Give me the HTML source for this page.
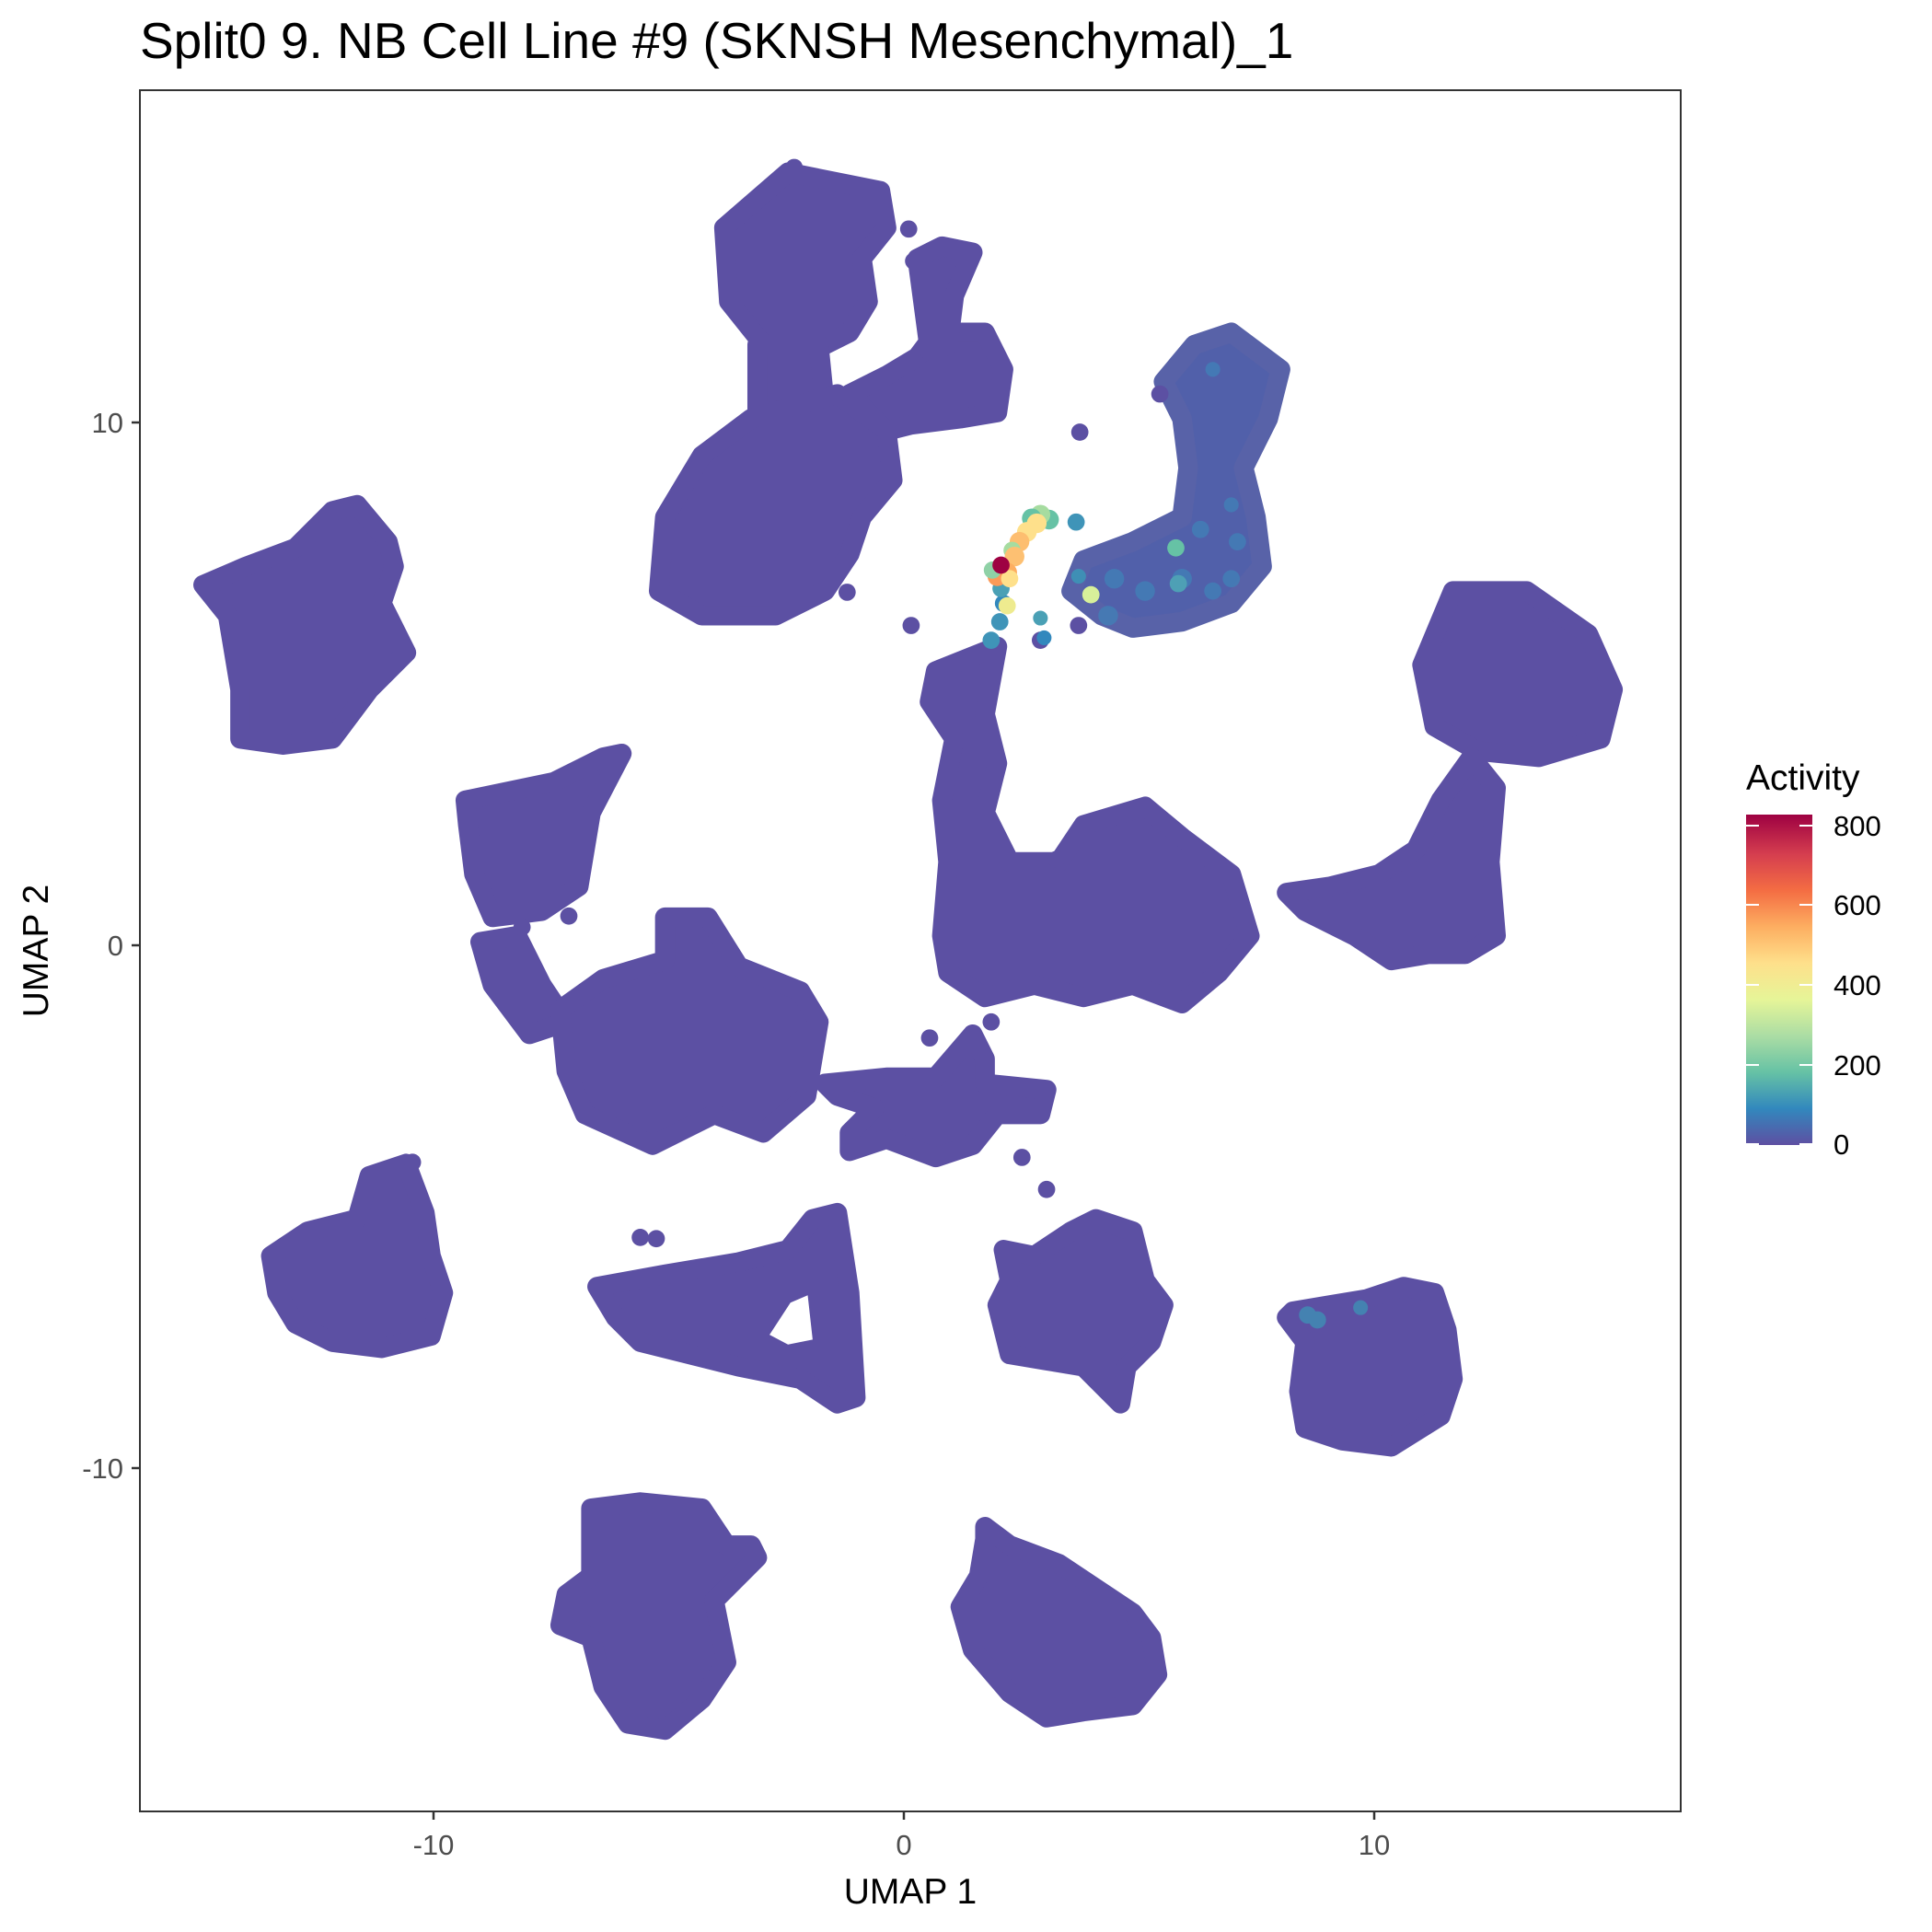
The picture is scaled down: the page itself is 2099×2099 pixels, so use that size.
<!DOCTYPE html>
<html><head><meta charset="utf-8"><style>
html,body{margin:0;padding:0;background:#fff}
svg{display:block}
text{font-family:"Liberation Sans",sans-serif}
</style></head><body>
<svg width="2099" height="2099" viewBox="0 0 2099 2099" xmlns="http://www.w3.org/2000/svg">
<defs>
<linearGradient id="sp" x1="0" y1="1" x2="0" y2="0">
<stop offset="0" stop-color="#5e4fa2"/>
<stop offset="0.11" stop-color="#3288bd"/>
<stop offset="0.22" stop-color="#66c2a5"/>
<stop offset="0.33" stop-color="#abdda4"/>
<stop offset="0.44" stop-color="#e6f598"/>
<stop offset="0.55" stop-color="#fee08b"/>
<stop offset="0.66" stop-color="#fdae61"/>
<stop offset="0.77" stop-color="#f46d43"/>
<stop offset="0.88" stop-color="#d53e4f"/>
<stop offset="1" stop-color="#9e0142"/>
</linearGradient>
</defs>
<rect width="2099" height="2099" fill="#fff"/>
<text x="152" y="63" font-size="55" fill="#000">Split0 9. NB Cell Line #9 (SKNSH Mesenchymal)_1</text>

<g transform="scale(1.3377)" fill="#5c50a3" stroke="#5c50a3" stroke-width="16" stroke-linejoin="round">
<polygon points="588,185 640,140 715,155 720,185 700,210 705,245 690,270 660,285 620,280 592,245"/>
<polygon points="615,280 665,280 670,330 615,335"/>
<polygon points="540,420 570,370 610,340 680,320 720,350 725,390 700,420 690,450 670,480 630,500 570,500 535,480"/>
<polygon points="690,320 720,305 745,290 760,270 800,270 815,300 810,335 780,340 740,345 720,350"/>
<polygon points="745,210 765,200 790,205 775,240 770,280 755,285"/>
<polygon fill="#5160aa" stroke="#5862a8" points="945,310 970,280 1000,270 1040,300 1030,340 1010,380 1020,420 1025,460 1000,490 960,505 920,510 895,500 870,480 880,455 920,440 960,420 965,380 960,340"/>
<polygon points="760,545 810,525 800,580 810,620 800,660 820,700 860,700 880,670 930,655 960,680 1000,710 1015,760 990,790 960,815 920,800 880,810 840,800 800,810 770,790 765,760 770,700 765,650 775,600 755,570"/>
<polygon points="1155,540 1180,480 1240,480 1290,515 1310,560 1300,600 1250,615 1200,610 1165,590"/>
<polygon points="1195,615 1215,640 1210,700 1215,760 1190,775 1160,775 1130,780 1100,760 1060,740 1045,725 1080,720 1120,710 1150,690 1170,650"/>
<polygon points="165,475 200,460 240,445 270,415 290,410 315,440 320,460 310,490 330,530 300,560 270,600 230,605 195,600 195,560 185,500"/>
<polygon points="378,650 450,635 490,615 505,612 480,660 470,720 440,740 400,745 385,710 380,670"/>
<polygon points="390,765 420,760 440,800 460,830 430,840 400,800"/>
<polygon points="455,820 490,795 540,780 540,745 575,745 600,785 650,805 665,830 655,890 620,920 580,905 530,930 475,905 460,870"/>
<polygon points="670,880 720,875 760,875 790,840 800,860 800,880 850,885 845,905 810,905 790,930 760,940 720,925 690,935 690,920 710,900 680,890"/>
<polygon points="220,1020 250,1000 290,990 300,955 330,945 345,985 350,1020 360,1050 350,1085 310,1095 270,1090 240,1075 225,1050"/>
<polygon points="485,1045 540,1035 600,1025 640,1015 660,990 680,985 690,1050 695,1135 680,1140 650,1120 600,1110 560,1100 520,1090 500,1070"/>
<polygon fill="#fff" stroke="none" points="642,1058 656,1052 660,1088 640,1092 625,1084"/>
<polygon points="815,1015 840,1020 870,1000 890,990 920,1000 930,1040 945,1060 935,1090 915,1110 910,1140 880,1110 850,1105 820,1100 810,1060 820,1040"/>
<polygon points="1050,1065 1080,1060 1110,1055 1140,1045 1165,1050 1175,1080 1180,1120 1170,1150 1130,1175 1090,1170 1060,1160 1055,1130 1060,1090 1045,1070"/>
<polygon points="480,1225 520,1220 570,1225 590,1255 610,1255 615,1265 580,1300 590,1350 570,1380 540,1405 510,1400 490,1370 480,1330 455,1320 460,1295 480,1280"/>
<polygon points="800,1240 820,1255 860,1270 890,1290 920,1310 935,1330 940,1360 920,1385 880,1390 850,1395 820,1375 790,1340 780,1305 795,1280 800,1250"/>
</g>

<g transform="scale(1.3377)" stroke="none">
<g fill="#5c50a3">
<circle cx="877" cy="351" r="7"/><circle cx="738" cy="186" r="7"/><circle cx="742" cy="212" r="7"/>
<circle cx="645" cy="136" r="7"/><circle cx="740" cy="508" r="7"/><circle cx="845" cy="520" r="7"/>
<circle cx="876" cy="508" r="7"/><circle cx="830" cy="940" r="7"/><circle cx="850" cy="966" r="7"/>
<circle cx="520" cy="1005" r="7"/><circle cx="533" cy="1006" r="7"/><circle cx="335" cy="944" r="7"/>
<circle cx="688" cy="481" r="7"/><circle cx="462" cy="744" r="7"/><circle cx="424" cy="753" r="7"/>
<circle cx="911" cy="1137" r="7"/><circle cx="805" cy="830" r="7"/><circle cx="755" cy="843" r="7"/>
<circle cx="858" cy="698" r="7"/><circle cx="1183" cy="666" r="7"/><circle cx="942" cy="320" r="7"/>
</g>
<g fill="#3f84b9" opacity="0.7">
<circle cx="900" cy="500" r="8"/><circle cx="930" cy="480" r="8"/><circle cx="960" cy="470" r="8"/>
<circle cx="985" cy="480" r="7"/><circle cx="1000" cy="470" r="7"/><circle cx="975" cy="430" r="7"/>
<circle cx="1005" cy="440" r="7"/><circle cx="985" cy="300" r="6"/><circle cx="1000" cy="410" r="6"/>
<circle cx="905" cy="470" r="8"/>
</g>
<circle cx="955" cy="445" r="7" fill="#66c2a5"/>
<circle cx="957" cy="474" r="7" fill="#4ea0b5"/>
<g fill="#3f8fb5" opacity="0.8">
<circle cx="1062" cy="1068" r="7"/><circle cx="1070" cy="1072" r="7"/><circle cx="1105" cy="1062" r="6"/>
</g>
<g>
<circle cx="805" cy="520" r="7" fill="#3f94b8"/><circle cx="812" cy="505" r="7" fill="#3f94b8"/>
<circle cx="815" cy="490" r="7" fill="#3288bd"/><circle cx="813" cy="478" r="7" fill="#4aa0b5"/>
<circle cx="818" cy="492" r="7" fill="#eeeb8f"/>
<circle cx="845" cy="502" r="6" fill="#4aa0b5"/><circle cx="848" cy="518" r="6" fill="#3288bd"/>
<circle cx="886" cy="483" r="7" fill="#d7f09a"/><circle cx="876" cy="468" r="6" fill="#3f8fb5"/>
<circle cx="874" cy="424" r="7" fill="#3f94b8"/>
<circle cx="852" cy="422" r="8" fill="#66c2a5"/><circle cx="845" cy="418" r="8" fill="#a6dca0"/>
<circle cx="838" cy="421" r="8" fill="#66c2a5"/><circle cx="842" cy="425" r="8" fill="#fee08b"/>
<circle cx="834" cy="432" r="8" fill="#fee08b"/><circle cx="828" cy="440" r="8" fill="#fdbe70"/>
<circle cx="822" cy="447" r="7" fill="#a6dca0"/><circle cx="824" cy="452" r="8" fill="#fdc072"/>
<circle cx="818" cy="465" r="8" fill="#fdae61"/><circle cx="810" cy="468" r="8" fill="#fb9a58"/>
<circle cx="806" cy="463" r="7" fill="#8fd1a6"/><circle cx="820" cy="470" r="7" fill="#fee08b"/>
<circle cx="813" cy="459" r="7" fill="#9e0142"/>
</g>
</g>

<rect x="152" y="98" width="1674" height="1870" fill="none" stroke="#333" stroke-width="2"/>
<g stroke="#333" stroke-width="2.5">
<line x1="471" y1="1968" x2="471" y2="1977"/><line x1="982" y1="1968" x2="982" y2="1977"/><line x1="1493" y1="1968" x2="1493" y2="1977"/>
<line x1="143" y1="459" x2="152" y2="459"/><line x1="143" y1="1027" x2="152" y2="1027"/><line x1="143" y1="1595" x2="152" y2="1595"/>
</g>
<g font-size="31" fill="#4d4d4d">
<text x="471" y="2015" text-anchor="middle">-10</text>
<text x="982" y="2015" text-anchor="middle">0</text>
<text x="1493" y="2015" text-anchor="middle">10</text>
<text x="134" y="470" text-anchor="end">10</text>
<text x="134" y="1038" text-anchor="end">0</text>
<text x="134" y="1606" text-anchor="end">-10</text>
</g>
<text x="989" y="2068" font-size="39" text-anchor="middle" fill="#000">UMAP 1</text>
<text transform="translate(52,1033) rotate(-90)" font-size="39" text-anchor="middle" fill="#000">UMAP 2</text>

<text x="1897" y="858" font-size="39" fill="#000">Activity</text>
<rect x="1897" y="885" width="72" height="359" fill="url(#sp)"/>
<g stroke="#fff" stroke-width="2">
<line x1="1897" y1="897" x2="1911" y2="897"/><line x1="1955" y1="897" x2="1969" y2="897"/>
<line x1="1897" y1="983" x2="1911" y2="983"/><line x1="1955" y1="983" x2="1969" y2="983"/>
<line x1="1897" y1="1070" x2="1911" y2="1070"/><line x1="1955" y1="1070" x2="1969" y2="1070"/>
<line x1="1897" y1="1157" x2="1911" y2="1157"/><line x1="1955" y1="1157" x2="1969" y2="1157"/>
<line x1="1897" y1="1243" x2="1911" y2="1243"/><line x1="1955" y1="1243" x2="1969" y2="1243"/>
</g>
<g font-size="31" fill="#000">
<text x="1992" y="908">800</text>
<text x="1992" y="994">600</text>
<text x="1992" y="1081">400</text>
<text x="1992" y="1168">200</text>
<text x="1992" y="1254">0</text>
</g>
</svg>
</body></html>
